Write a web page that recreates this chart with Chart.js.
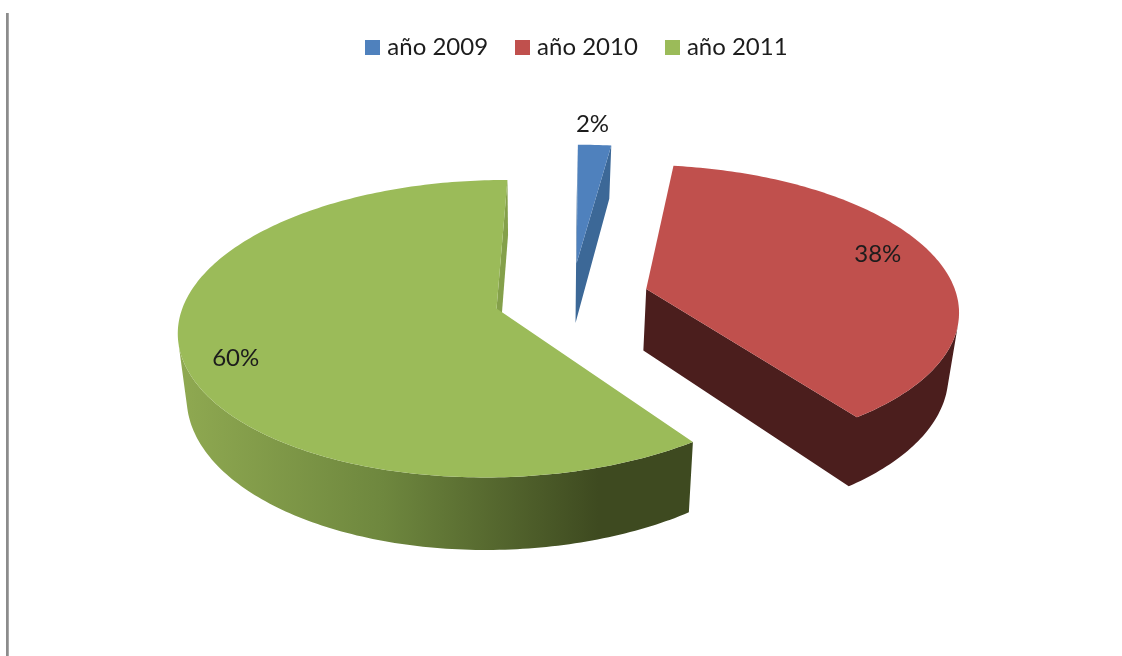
<!DOCTYPE html>
<html lang="es">
<head>
<meta charset="utf-8">
<title>año 2009 – 2011</title>
<script src="https://cdn.jsdelivr.net/npm/chart.js@4"></script>
<style>
html,body{margin:0;padding:0;background:#fff;overflow:hidden}
#wrap{position:relative;width:1122px;height:656px}
#rule{position:absolute;left:6px;top:13px;bottom:0;width:3px;background:linear-gradient(90deg,#8c8c8c 0,#8c8c8c 66%,#c4c4c4 100%)}
canvas{position:absolute;left:0;top:0}
</style>
</head>
<body>
<div id="wrap"><div id="rule"></div><canvas id="c" width="1122" height="656"></canvas></div>
<script>
const categories = ['año 2009', 'año 2010', 'año 2011'];
const values = [2, 38, 60];
const topColors = ['#4F81BD', '#C0504D', '#9BBB59'];
const wallColors = ['#3C6897', '#4B1E1D', '#84A04A'];

// Perspective view of the pie plane (unit = one pie radius)
const VIEW = {x0: 571.4, y0: 297.5, sx: 311, sy: 143, persp: 0.135, depth: 62, shrink: 0.975, shift: -1};
const FONT = '24px Lato';
const TEXT = '#1c1c1c';

function project(u, v, bottom) {
  const d = 1 - VIEW.persp * v;
  const dx = VIEW.sx * u / d;
  const y = VIEW.y0 + VIEW.sy * v / d;
  return bottom ? [VIEW.x0 + VIEW.shift + dx * VIEW.shrink, y + VIEW.depth / d] : [VIEW.x0 + dx, y];
}
function frame(arc) {
  const mid = (arc.startAngle + arc.endAngle) / 2;
  const off = (arc.options.offset || 0) / 4 / arc.outerRadius;
  return {u: Math.cos(mid) * off, v: Math.sin(mid) * off, mid};
}
function rimPoints(arc, bottom) {
  const f = frame(arc), pts = [];
  const n = Math.max(6, Math.round((arc.endAngle - arc.startAngle) * 60));
  for (let i = 0; i <= n; i++) {
    const a = arc.startAngle + (arc.endAngle - arc.startAngle) * i / n;
    pts.push(project(f.u + Math.cos(a), f.v + Math.sin(a), bottom));
  }
  return pts;
}
function signedArea(pts) {
  let s = 0;
  pts.forEach((p, i) => {
    const q = pts[(i + 1) % pts.length];
    s += p[0] * q[1] - q[0] * p[1];
  });
  return s / 2;
}
function tracePoly(ctx, pts) {
  pts.forEach((p, i) => i ? ctx.lineTo(p[0], p[1]) : ctx.moveTo(p[0], p[1]));
  ctx.closePath();
}
function fillPolys(ctx, polys, style) {
  ctx.beginPath();
  polys.forEach(pts => tracePoly(ctx, pts));
  ctx.fillStyle = style;
  ctx.fill();
}
function wallStyle(ctx, i) {
  if (i !== 2) return wallColors[i];
  const g = ctx.createLinearGradient(180, 0, 690, 0);
  g.addColorStop(0, '#8FA951');
  g.addColorStop(0.4, '#6E873E');
  g.addColorStop(0.82, '#3E4A20');
  g.addColorStop(1, '#3E4A20');
  return g;
}

const pie3d = {
  id: 'pie3d',
  beforeDatasetDraw() { return false; },
  afterDatasetsDraw(chart) {
    const ctx = chart.ctx;
    const arcs = chart.getDatasetMeta(0).data;
    ctx.save();
    arcs.forEach((arc, i) => {
      const f = frame(arc);
      const top = rimPoints(arc, false), bot = rimPoints(arc, true);
      const apexT = project(f.u, f.v, false), apexB = project(f.u, f.v, true);
      const last = top.length - 1;
      const sameColour = i !== 2;
      const startWall = [apexT, top[0], bot[0], apexB];
      const endWall = [apexT, top[last], bot[last], apexB];
      // only the wall facets that face the viewer
      const facets = [];
      for (let k = 0; k < last; k++) {
        const q = [top[k], top[k + 1], bot[k + 1], bot[k]];
        if (signedArea(q) < 0) facets.push(q);
      }
      const showStart = signedArea(startWall) < 0, showEnd = signedArea(endWall) > 0;
      if (sameColour) {
        // same flat colour: one path, oriented alike, so no seams between the pieces
        const polys = facets.slice();
        if (showEnd) polys.push(endWall.slice().reverse());
        if (showStart) polys.push(startWall);
        fillPolys(ctx, polys, wallColors[i]);
      } else {
        if (showStart) fillPolys(ctx, [startWall], wallColors[i]);
        fillPolys(ctx, facets, wallStyle(ctx, i));
        if (showEnd) fillPolys(ctx, [endWall], wallColors[i]);
      }
      // top face
      fillPolys(ctx, [[apexT].concat(top)], topColors[i]);
    });
    // value labels
    const total = values.reduce((a, b) => a + b, 0);
    const place = [[1.183, -5, -2], [0.8, 0, -8], [0.814, -6, 13]];
    ctx.font = FONT;
    ctx.fillStyle = TEXT;
    ctx.textAlign = 'center';
    ctx.textBaseline = 'middle';
    arcs.forEach((arc, i) => {
      const f = frame(arc);
      const p = project(f.u + Math.cos(f.mid) * place[i][0], f.v + Math.sin(f.mid) * place[i][0], false);
      ctx.fillText(Math.round(values[i] / total * 100) + '%', p[0] + place[i][1], p[1] + place[i][2]);
    });
    ctx.restore();
  }
};

function swatch(color) {
  const s = document.createElement('canvas');
  s.width = 15; s.height = 15;
  const x = s.getContext('2d');
  x.fillStyle = color;
  x.fillRect(0, 0, 15, 15);
  return s;
}
const swatches = topColors.map(swatch);

new Chart(document.getElementById('c'), {
  type: 'pie',
  data: {
    labels: categories,
    datasets: [{
      data: values,
      backgroundColor: topColors,
      borderWidth: 0,
      offset: 100,
      hoverOffset: 0
    }]
  },
  plugins: [pie3d],
  options: {
    responsive: false,
    animation: false,
    radius: 100,
    rotation: 0.4,
    events: [],
    layout: {padding: {top: 3, left: 36}},
    plugins: {
      tooltip: {enabled: false},
      legend: {
        position: 'top',
        labels: {
          font: {family: 'Lato', size: 24},
          color: TEXT,
          usePointStyle: true,
          pointStyleWidth: 5,
          boxHeight: 15,
          padding: 32,
          generateLabels(chart) {
            return Chart.overrides.pie.plugins.legend.labels.generateLabels(chart)
              .map((item, i) => Object.assign(item, {pointStyle: swatches[i]}));
          }
        }
      }
    }
  }
});
</script>
</body>
</html>
